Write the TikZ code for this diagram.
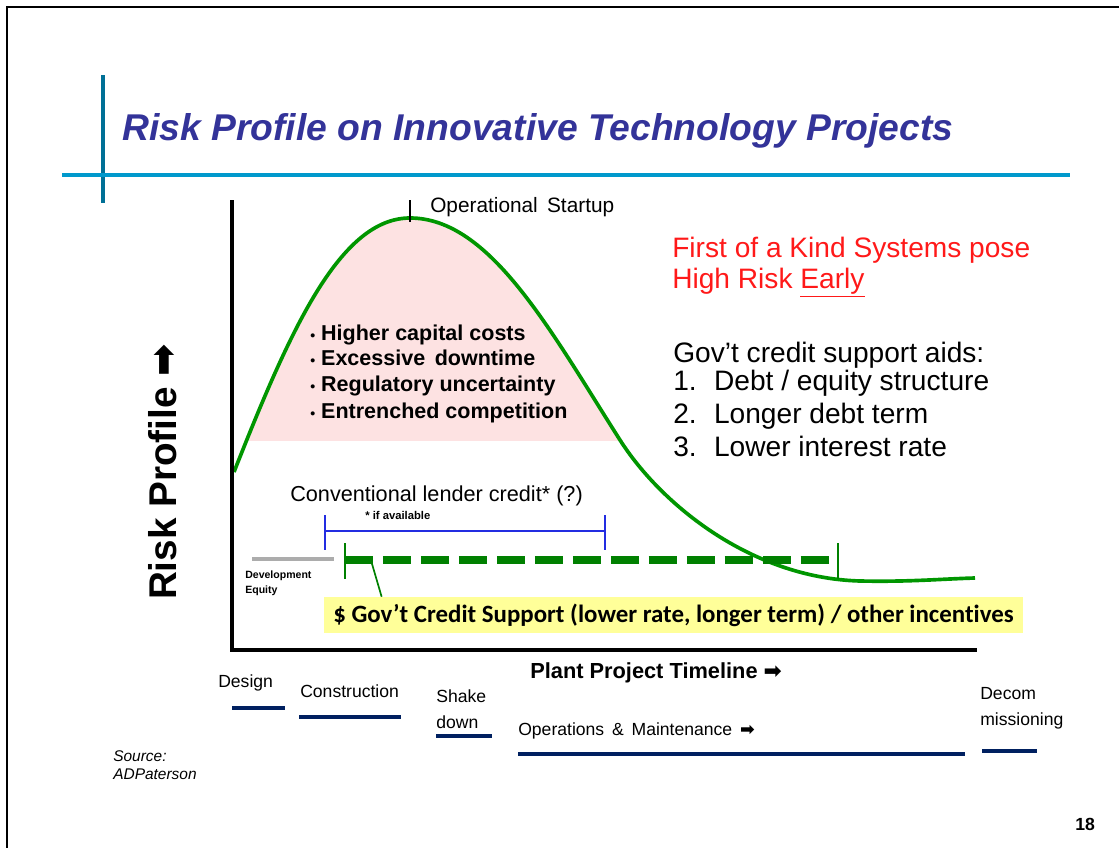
\documentclass[tikz,border=0pt]{standalone}
\usepackage{fontspec}
\setmainfont{Liberation Sans}
\newfontfamily\calibrifont[Ligatures=NoCommon]{Carlito}
\newfontfamily\dingfont{DejaVu Sans}
\usetikzlibrary{positioning,calc}

\definecolor{titleblue}{RGB}{51,51,153}
\definecolor{ruleblue}{RGB}{0,153,204}
\definecolor{barteal}{RGB}{0,112,150}
\definecolor{riskgreen}{RGB}{0,150,0}
\definecolor{dashgreen}{RGB}{0,128,0}
\definecolor{riskpink}{RGB}{253,226,226}
\definecolor{lenderblue}{RGB}{35,45,225}
\definecolor{phasenavy}{RGB}{0,32,96}
\definecolor{calloutyellow}{RGB}{255,255,153}
\definecolor{firstred}{RGB}{255,25,25}

\newcommand{\rarrow}{{\dingfont\bfseries ➡}}
\newcommand{\riskdot}{{\fontsize{10}{10}\selectfont •}\ }

\tikzset{
  lbl/.style={inner sep=0pt,anchor=base west},
  phaselbl/.style={lbl,font=\fontsize{12.5}{17.8}\selectfont,align=left},
  phaseline/.style={phasenavy,line width=2.5pt},
  bulletlbl/.style={lbl,font=\fontsize{15.3}{18}\selectfont\bfseries},
  aidlbl/.style={lbl,font=\fontsize{20}{24}\selectfont},
  tinylbl/.style={lbl,font=\fontsize{8}{10}\selectfont\bfseries},
}

\begin{document}
\begin{tikzpicture}[x=0.025cm,y=-0.025cm]
    \useasboundingbox (0,0) rectangle (1119,848);
    % slide frame
    \draw [line width=2pt] (7,848) -- (7,7) -- (1119,7);
    % title rules
    \draw [barteal,line width=3pt] (103,75) -- (103,203);
    \draw [ruleblue,line width=3pt] (62,175) -- (1070,175);
    \node [lbl,font=\fontsize{26.5}{30}\selectfont\bfseries\itshape,text=titleblue] (title) at (122,140)
        {Risk Profile on Innovative Technology Projects};

    % risk hump
    \begin{scope}
      \clip (0,0) rectangle (1119,440);
      \fill [riskpink] (234,472) .. controls (290,330) and (340,218) .. (410,218)
        .. controls (490,218) and (550,330) .. (620,440) -- (620,472) -- cycle;
    \end{scope}
    \draw [riskgreen,line width=2.6pt] (234,472) .. controls (290,330) and (340,218) .. (410,218)
        .. controls (490,218) and (550,330) .. (620,440)
        .. controls (660,503) and (750,578) .. (860,581)
        .. controls (910,582) and (940,579) .. (975,578);

    % axes
    \draw [line width=2.8pt] (232,200) -- (232,650) -- (977,650);
    \node [rotate=90,font=\fontsize{27.5}{30}\selectfont\bfseries] (riskaxis) at (163,472) {Risk Profile \rarrow};
    \node [lbl,font=\fontsize{15.5}{18}\selectfont\bfseries] (timeline) at (530,678) {Plant Project Timeline \rarrow};

    % startup marker
    \draw [line width=1pt] (410,200) -- (410,222);
    \node [lbl,font=\fontsize{14.8}{17}\selectfont] (startup) at (430,212) {Operational\, Startup};

    % early risks
    \node [bulletlbl] (risk1) at (310,340) {\riskdot Higher capital costs};
    \node [bulletlbl] (risk2) at (310,365) {\riskdot Excessive\, downtime};
    \node [bulletlbl] (risk3) at (310,391) {\riskdot Regulatory uncertainty};
    \node [bulletlbl] (risk4) at (310,418) {\riskdot Entrenched competition};

    % right hand statements
    \node [aidlbl,text=firstred] (foak1) at (672,257) {First of a Kind Systems pose};
    \node [aidlbl,text=firstred] (foak2) at (672,288) {High Risk \underline{Early}};
    \node [aidlbl] (aids) at (673,362) {Gov't credit support aids:};
    \node [aidlbl] (aid1) at (673,390) {\makebox[29pt][l]{1.}Debt / equity structure};
    \node [aidlbl] (aid2) at (673,423) {\makebox[29pt][l]{2.}Longer debt term};
    \node [aidlbl] (aid3) at (673,456) {\makebox[29pt][l]{3.}Lower interest rate};

    % lender credit
    \node [lbl,font=\fontsize{15.4}{17}\selectfont] (lender) at (290,501) {Conventional lender credit* (?)};
    \node [tinylbl] (ifavail) at (365,519) {* if available};
    \draw [lenderblue,line width=1.5pt] (325,515) -- (325,550) (325,531) -- (605,531) (605,515) -- (605,550);

    % development equity
    \draw [gray!65,line width=3.5pt] (252,559) -- (334,559);
    \node [tinylbl,align=left,font=\fontsize{7.5}{10.5}\selectfont\bfseries] (equity) at (245,593) {Development\\Equity};

    % government support
    \coordinate (govstart) at (345,560);
    \coordinate (govend) at (838,560);
    \draw [dashgreen,line width=5.5pt,dash pattern=on 20pt off 7pt] (govstart) -- (govend);
    \draw [dashgreen,line width=1.2pt] (345,543) -- (345,579) (838,543) -- (838,579);
    \node [fill=calloutyellow,minimum width=17.475cm,minimum height=0.9cm,inner sep=0pt,
        font=\fontsize{17.7}{20}\selectfont\calibrifont\bfseries] (govbox) at (673.5,615)
        {\$ Gov’t Credit Support (lower rate, longer term) / other incentives};
    \coordinate (calloutfoot) at (370,557);
    \draw [dashgreen,line width=1.2pt] (calloutfoot) -- ($(govbox.north west)+(58,0)$);

    % project phases
    \node [phaselbl] (design) at (218,687) {Design};
    \draw [phaseline] (232,708) -- (285,708);
    \node [phaselbl] (construct) at (300,697) {Construction};
    \draw [phaseline] (299,717) -- (401,717);
    \node [phaselbl] (shake) at (436,728) {Shake\\down};
    \draw [phaseline] (436,736) -- (492,736);
    \node [phaselbl] (operate) at (518,735) {Operations\, \&\, Maintenance\, \rarrow};
    \draw [phaseline] (518,754) -- (965,754);
    \node [phaselbl] (decom) at (980,725) {Decom\\missioning};
    \draw [phaseline] (982,751) -- (1037,751);

    \node [lbl,align=left,font=\fontsize{11}{12.8}\selectfont\itshape] (source) at (113,779) {Source:\\ADPaterson};
    \node [lbl,font=\fontsize{12.5}{15}\selectfont\bfseries] (pagenum) at (1075,830) {18};
\end{tikzpicture}
\end{document}
